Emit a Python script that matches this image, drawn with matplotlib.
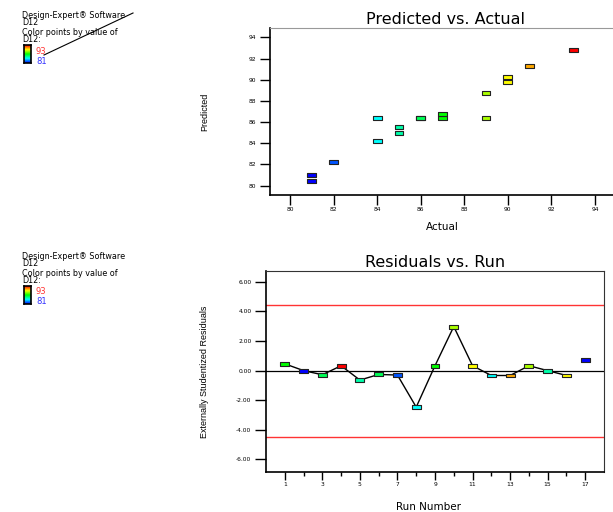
import numpy as np
import matplotlib
matplotlib.use("Agg")
from matplotlib import pyplot as plt
from matplotlib.colors import LinearSegmentedColormap, Normalize
from matplotlib.path import Path
from matplotlib.lines import Line2D

plt.rcParams['font.family'] = ['DejaVu Sans']

# data, one entry per run
runs = np.arange(1, 18)
actual = np.array([87, 81, 86, 93, 85, 86, 82, 84, 87, 89, 90, 84, 91, 89, 85, 90, 81])
predicted = np.array([86.38, 80.97, 86.38, 92.77, 85.5, 86.38, 82.23, 86.38, 86.76,
                      86.38, 89.75, 84.25, 91.25, 88.74, 85.0, 90.25, 80.47])
residuals = np.array([0.46, 0.0, -0.28, 0.33, -0.64, -0.26, -0.30, -2.47, 0.33,
                      2.98, 0.33, -0.33, -0.33, 0.33, 0.0, -0.33, 0.69])
limit = 4.46
d12_low, d12_high = 81, 93

W, H = 613, 512
fig = plt.figure(figsize=(W / 100, H / 100), dpi=100)


def rect(x0, y0, x1, y1):
    # pixel box (top-left origin) -> figure fraction
    return [x0 / W, 1 - y1 / H, (x1 - x0) / W, (y1 - y0) / H]


def px(x, y):
    return x / W, 1 - y / H


cmap = LinearSegmentedColormap.from_list('de', ['#0000ff', '#00ffff', '#00ff00', '#ffff00', '#ff0000'])
norm = Normalize(d12_low, d12_high)
box = Path([(-1, -0.45), (1, -0.45), (1, 0.45), (-1, 0.45), (-1, -0.45)],
           [Path.MOVETO, Path.LINETO, Path.LINETO, Path.LINETO, Path.CLOSEPOLY])
narrow = ['Liberation Sans', 'DejaVu Sans']


def legend(y0):
    fig.text(*px(22, y0 - 5), 'Design-Expert® Software\nD12', fontsize=5.8,
             va='top', linespacing=0.75)
    fig.text(*px(22, y0 + 12), 'Color points by value of\nD12:', fontsize=5.8,
             va='top', linespacing=0.75)
    cax = fig.add_axes(rect(24, y0 + 29, 30.5, y0 + 47))
    cax.imshow(np.linspace(1, 0, 50)[:, None], cmap=cmap, aspect='auto')
    cax.set_xticks([])
    cax.set_yticks([])
    for s in cax.spines.values():
        s.set_linewidth(1.2)
    fig.text(*px(36, y0 + 35), '93', fontsize=6, color='#ff3333', va='center')
    fig.text(*px(36, y0 + 45), '81', fontsize=6, color='#3333ff', va='center')


legend(16)
legend(257)
fig.add_artist(Line2D([44 / W, 133 / W], [1 - 55 / H, 1 - 13 / H], color='black', lw=0.8))

# Predicted vs. Actual
ax1 = fig.add_axes(rect(270, 28, 620, 195))
ax1.scatter(actual, predicted, c=actual, cmap=cmap, norm=norm, marker=box, s=40,
            edgecolors='#222222', linewidths=0.8, zorder=3)
ax1.set_xlim(79.08, 95.15)
ax1.set_ylim(79.12, 94.88)
ax1.set_xticks(np.arange(80, 95, 2))
ax1.set_yticks(np.arange(80, 95, 2))
ax1.tick_params(labelsize=4.3, length=7, width=1, direction='out')
ax1.tick_params(axis='x', pad=1.5)
ax1.tick_params(axis='y', pad=3)
ax1.spines['top'].set_color('#999999')
ax1.spines['right'].set_visible(False)
ax1.spines['left'].set_linewidth(1.2)
ax1.spines['bottom'].set_linewidth(1.2)
ax1.set_title('Predicted vs. Actual', fontsize=11.5, pad=3)
fig.text(*px(442, 227), 'Actual', fontsize=7.5, ha='center', va='center')
fig.text(*px(205, 112), 'Predicted', fontsize=6.5, rotation=90, ha='center', va='center', family=narrow)

# Residuals vs. Run
ax2 = fig.add_axes(rect(266, 271, 604, 472))
ax2.axhline(0, color='black', lw=0.9, zorder=1)
ax2.axhline(limit, color='#ff3333', lw=1.0, zorder=1)
ax2.axhline(-limit, color='#ff3333', lw=1.0, zorder=1)
ax2.plot(runs[:-1], residuals[:-1], color='black', lw=1.0, zorder=2)
ax2.scatter(runs, residuals, c=actual, cmap=cmap, norm=norm, marker=box, s=40,
            edgecolors='#222222', linewidths=0.8, zorder=3)
ax2.set_xlim(0, 18)
ax2.set_ylim(-6.86, 6.74)
ax2.set_xticks(np.arange(1, 18, 2))
ax2.set_xticks(np.arange(2, 17, 2), minor=True)
ax2.set_yticks(np.arange(-6, 7, 2))
ax2.set_yticklabels(['%.2f' % v for v in np.arange(-6, 7, 2)])
ax2.tick_params(labelsize=4.3, length=6, width=1, direction='out')
ax2.tick_params(axis='x', which='minor', length=3, width=1)
ax2.tick_params(axis='x', pad=1.5)
ax2.tick_params(axis='y', length=8, pad=2.5)
for s in ['top', 'right']:
    ax2.spines[s].set_color('#333333')
ax2.spines['left'].set_linewidth(1.2)
ax2.spines['bottom'].set_linewidth(1.2)
ax2.set_title('Residuals vs. Run', fontsize=11.5, pad=3)
fig.text(*px(428, 507), 'Run Number', fontsize=7.5, ha='center', va='center')
fig.text(*px(205, 372), 'Externally Studentized Residuals', fontsize=6.5, rotation=90,
         ha='center', va='center', family=narrow)

fig.savefig('out.png', dpi=100)
